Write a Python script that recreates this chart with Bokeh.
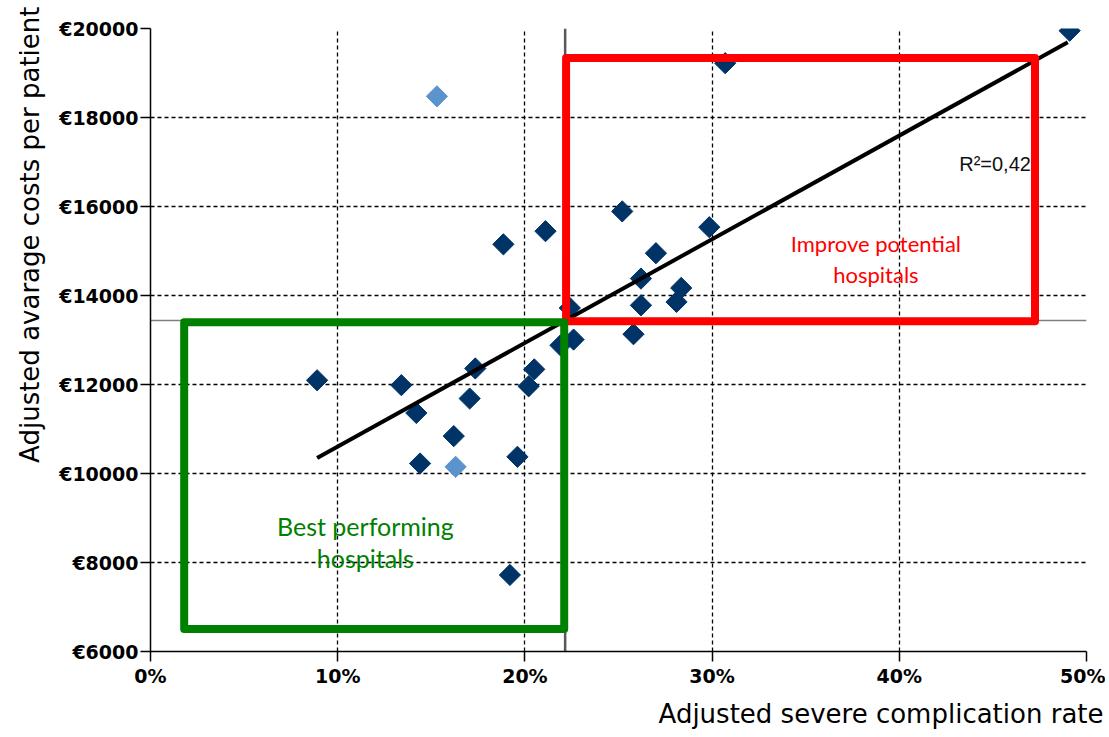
import numpy as np
from bokeh.plotting import figure
from bokeh.models import FixedTicker, ColumnDataSource, Title
from bokeh.core.properties import value
from bokeh.embed import file_html
from bokeh.resources import INLINE

# ---- data ----
rate_main = [49.1, 30.7, 25.2, 29.85, 21.1, 18.85, 27.0, 26.2, 28.35, 28.1, 26.2, 22.4,
             25.8, 22.6, 21.9, 20.5, 17.35, 8.9, 13.4, 20.2, 17.05, 14.2, 16.2, 14.4,
             19.6, 19.2]
cost_main = [19950, 19220, 15890, 15535, 15445, 15150, 14950, 14380, 14170, 13855, 13780, 13720,
             13130, 13010, 12880, 12340, 12360, 12095, 11985, 11960, 11685, 11360, 10840, 10225,
             10375, 7720]
rate_light = [15.3, 16.3]
cost_light = [18475, 10150]

trend_rate = [8.9, 49.0]
trend_cost = [10350, 19690]
r2_text = "R²=0,42"

mean_rate = 22.15
mean_cost = 13440

# quadrant boxes: left, right, bottom, top
red_box = [22.2, 47.25, 13420, 19335]
green_box = [1.8, 22.1, 6505, 13400]

x_ticks = [0, 10, 20, 30, 40, 50]
x_tick_labels = ["0%", "10%", "20%", "30%", "40%", "50%"]
y_ticks = [6000, 8000, 10000, 12000, 14000, 16000, 18000, 20000]
y_tick_labels = ["€6000", "€8000", "€10000", "€12000", "€14000", "€16000", "€18000", "€20000"]

x_title = "Adjusted severe complication rate"
y_title = "Adjusted avarage costs per patient"
red_label = "Improve potential\nhospitals"
green_label = "Best performing\nhospitals"

# ---- figure ----
p = figure(width=1105, height=735, x_range=(0, 50), y_range=(6000, 20000),
           output_backend="svg", toolbar_location=None,
           min_border_left=149, min_border_right=19, min_border_top=28, min_border_bottom=83)
p.outline_line_color = None
p.background_fill_color = "white"
p.border_fill_color = "white"

for ax, ticks, labels in ((p.xaxis[0], x_ticks, x_tick_labels), (p.yaxis[0], y_ticks, y_tick_labels)):
    ax.ticker = FixedTicker(ticks=ticks)
    ax.major_label_overrides = {t: l for t, l in zip(ticks, labels)}
    ax.minor_tick_line_color = None
    ax.major_tick_out = 10
    ax.major_tick_in = 0
    ax.major_tick_line_color = "black"
    ax.major_tick_line_width = 1.5
    ax.axis_line_color = "black"
    ax.axis_line_width = 1.5
    ax.major_label_text_font = "DejaVu Sans"
    ax.major_label_text_font_style = "bold"
    ax.major_label_text_font_size = "19px"
    ax.major_label_text_color = "black"

p.xaxis.major_label_standoff = 3
p.yaxis.major_label_standoff = 2

# axis titles
xt = Title(text=x_title, align="right", offset=-17, standoff=14,
           text_font="DejaVu Sans", text_font_style="normal", text_font_size="26px",
           text_color="black")
p.add_layout(xt, "below")
yt = Title(text=y_title, align="right", offset=-22, standoff=24,
           text_font="DejaVu Sans", text_font_style="normal", text_font_size="26px",
           text_color="black")
p.add_layout(yt, "left")

for g in (p.xgrid[0], p.ygrid[0]):
    g.grid_line_color = "black"
    g.grid_line_dash = "4 3"
    g.grid_line_width = 1.3

# quadrant lines
p.line([mean_rate, mean_rate], [6000, 20000], line_color="#595959", line_width=2.5)
p.line([0, 50], [mean_cost, mean_cost], line_color="#7f7f7f", line_width=1.5)

# R² text
p.text(x=[43.2], y=[16960], text=[r2_text], text_font=value("Liberation Sans"),
       text_font_size="20px", text_color="#111111", text_align="left", text_baseline="middle")

# points
src_main = ColumnDataSource(dict(x=rate_main, y=cost_main))
src_light = ColumnDataSource(dict(x=rate_light, y=cost_light))
p.scatter("x", "y", source=src_main, marker="square", size=15, angle=np.pi / 4,
          fill_color="#003366", line_color="#003366")
p.scatter("x", "y", source=src_light, marker="square", size=15, angle=np.pi / 4,
          fill_color="#5b94cd", line_color="#5b94cd")

# trend line
p.line(trend_rate, trend_cost, line_color="black", line_width=4)

# boxes
p.quad(left=[red_box[0]], right=[red_box[1]], bottom=[red_box[2]], top=[red_box[3]],
       fill_color=None, line_color="#ff0000", line_width=8, line_join="round")
p.quad(left=[green_box[0]], right=[green_box[1]], bottom=[green_box[2]], top=[green_box[3]],
       fill_color=None, line_color="#008000", line_width=8, line_join="round")

# region labels
p.text(x=[38.75], y=[14810], text=[red_label], text_font=value("Lato"), text_font_size="22px",
       text_color="#ff0000", text_align="center", text_baseline="middle", text_line_height=1.15)
p.text(x=[11.48], y=[8460], text=[green_label], text_font=value("Lato"), text_font_size="25px",
       text_color="#008000", text_align="center", text_baseline="middle", text_line_height=1.07)

open("out.html", "w").write(file_html(p, INLINE))
